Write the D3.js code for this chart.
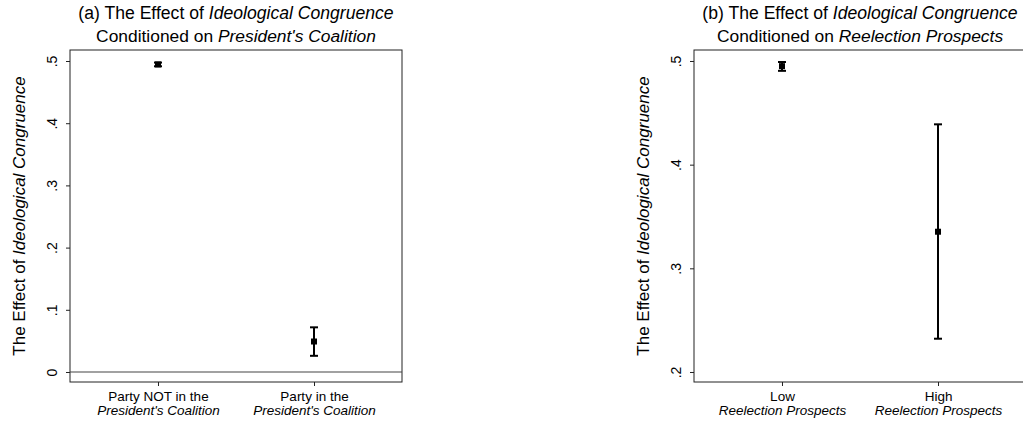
<!DOCTYPE html>
<html><head><meta charset="utf-8">
<script src="https://cdn.jsdelivr.net/npm/d3@7"></script>
<style>
html,body{margin:0;padding:0;background:#fff;}
svg{display:block;font-family:"Liberation Sans",Arial,sans-serif;}
</style></head>
<body>
<svg id="chart" width="1023" height="421"></svg>
<script>
// Panel (a)
const catsA = [["Party NOT in the", "President's Coalition"], ["Party in the", "President's Coalition"]];
const estA = [0.4945, 0.0490];
const loA = [0.4915, 0.0260];
const hiA = [0.4975, 0.0718];
const ticksA = [0, 0.1, 0.2, 0.3, 0.4, 0.5];
const tickLabelsA = ["0", ".1", ".2", ".3", ".4", ".5"];

// Panel (b)
const catsB = [["Low", "Reelection Prospects"], ["High", "Reelection Prospects"]];
const estB = [0.4950, 0.3353];
const loB = [0.4905, 0.2321];
const hiB = [0.4990, 0.4389];
const ticksB = [0.2, 0.3, 0.4, 0.5];
const tickLabelsB = [".2", ".3", ".4", ".5"];

const svg = d3.select("#chart");

function panel(cfg) {
  const {x0, top, w, h, domain, cats, est, lo, hi, ticks, tickLabels, titleA, titleB, zeroLine} = cfg;
  const g = svg.append("g").attr("transform", `translate(${x0},${top})`);
  const y = d3.scaleLinear().domain(domain).range([h, 0]);
  const x = d3.scaleLinear().domain([0.436, 2.564]).range([0, w]);

  // frame
  g.append("rect").attr("x", 0).attr("y", 0).attr("width", w).attr("height", h)
    .attr("fill", "none").attr("stroke", "#222").attr("stroke-width", 1);

  if (zeroLine) {
    g.append("line").attr("x1", 0).attr("x2", w).attr("y1", y(0)).attr("y2", y(0))
      .attr("stroke", "#444").attr("stroke-width", 1.2);
  }

  // y axis
  const yAxis = d3.axisLeft(y).tickValues(ticks).tickSize(4).tickPadding(0)
    .tickFormat((d, i) => tickLabels[i]);
  const ya = g.append("g").call(yAxis);
  ya.select(".domain").remove();
  ya.selectAll(".tick line").attr("stroke", "#222");
  ya.selectAll(".tick text")
    .attr("transform", "rotate(-90)")
    .attr("x", 0).attr("y", -13).attr("dy", 0)
    .attr("text-anchor", "middle")
    .attr("font-size", 14).attr("fill", "#000");

  // x axis
  const xAxis = d3.axisBottom(x).tickValues([1, 2]).tickSize(4).tickFormat("");
  const xa = g.append("g").attr("transform", `translate(0,${h})`).call(xAxis);
  xa.select(".domain").remove();
  xa.selectAll(".tick line").attr("stroke", "#222");
  xa.selectAll(".tick").each(function(d, i) {
    const t = d3.select(this).append("text").attr("fill", "#000").attr("font-size", 13.5)
      .attr("text-anchor", "middle");
    t.append("tspan").attr("x", 0).attr("y", 19).text(cats[i][0]);
    t.append("tspan").attr("x", 0).attr("y", 33).attr("font-style", "italic").text(cats[i][1]);
  });

  // y title
  const yt = g.append("text").attr("transform", `translate(-45,${h / 2}) rotate(-90)`)
    .attr("text-anchor", "middle").attr("font-size", 17).attr("fill", "#000");
  yt.append("tspan").text("The Effect of ");
  yt.append("tspan").attr("font-style", "italic").text("Ideological Congruence");

  // title
  const t1 = g.append("text").attr("x", w / 2).attr("y", -31).attr("text-anchor", "middle")
    .attr("font-size", 17.6).attr("fill", "#000");
  t1.append("tspan").text(titleA[0]);
  t1.append("tspan").attr("font-style", "italic").text(titleA[1]);
  const t2 = g.append("text").attr("x", w / 2).attr("y", -8).attr("text-anchor", "middle")
    .attr("font-size", 17.4).attr("fill", "#000");
  t2.append("tspan").text(titleB[0]);
  t2.append("tspan").attr("font-style", "italic").text(titleB[1]);

  // error bars
  const idx = d3.range(est.length);
  g.selectAll(".ci").data(idx).join("line")
    .attr("x1", i => x(i + 1)).attr("x2", i => x(i + 1))
    .attr("y1", i => y(lo[i])).attr("y2", i => y(hi[i]))
    .attr("stroke", "#000").attr("stroke-width", 2);
  g.selectAll(".capT").data(idx).join("line")
    .attr("x1", i => x(i + 1) - 4).attr("x2", i => x(i + 1) + 4)
    .attr("y1", i => y(hi[i])).attr("y2", i => y(hi[i]))
    .attr("stroke", "#000").attr("stroke-width", 2);
  g.selectAll(".capB").data(idx).join("line")
    .attr("x1", i => x(i + 1) - 4).attr("x2", i => x(i + 1) + 4)
    .attr("y1", i => y(lo[i])).attr("y2", i => y(lo[i]))
    .attr("stroke", "#000").attr("stroke-width", 2);
  g.selectAll(".pt").data(idx).join("rect")
    .attr("x", i => x(i + 1) - 3).attr("y", i => y(est[i]) - 3)
    .attr("width", 6).attr("height", 6).attr("fill", "#000");
}

panel({x0: 70, top: 50, w: 332, h: 332, domain: [-0.0161, 0.5177],
  cats: catsA, est: estA, lo: loA, hi: hiA, ticks: ticksA, tickLabels: tickLabelsA,
  titleA: ["(a) The Effect of ", "Ideological Congruence"],
  titleB: ["Conditioned on ", "President's Coalition"], zeroLine: true});

panel({x0: 694, top: 50, w: 332, h: 332, domain: [0.19035, 0.5106],
  cats: catsB, est: estB, lo: loB, hi: hiB, ticks: ticksB, tickLabels: tickLabelsB,
  titleA: ["(b) The Effect of ", "Ideological Congruence"],
  titleB: ["Conditioned on ", "Reelection Prospects"], zeroLine: false});
</script>
</body></html>
